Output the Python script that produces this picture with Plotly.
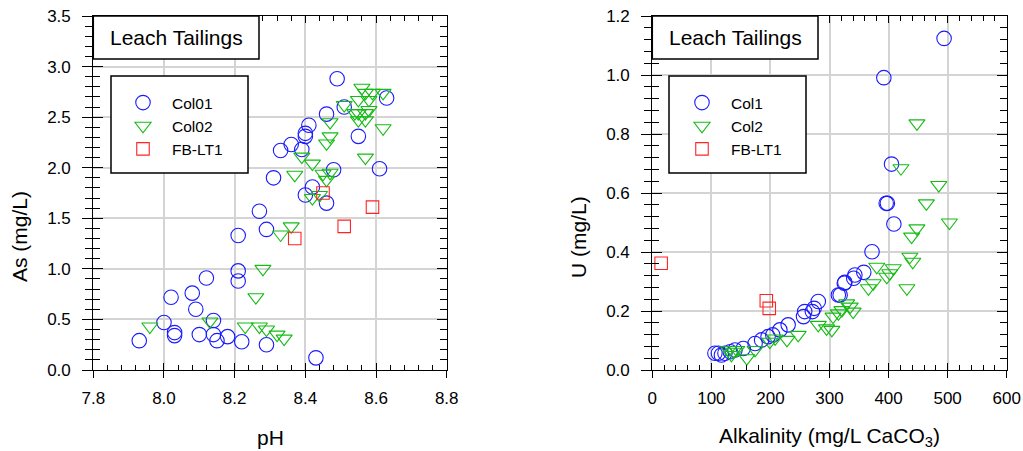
import plotly.graph_objects as go

# ---------------- data ----------------
# Left panel: As (mg/L) vs pH
ph_col01 = [7.93, 8.00, 8.02, 8.03, 8.03, 8.08, 8.09, 8.12, 8.10, 8.14, 8.14, 8.15,
            8.18, 8.22, 8.29, 8.21, 8.21, 8.21, 8.27, 8.29, 8.31, 8.40, 8.42, 8.46,
            8.43, 8.49, 8.63, 8.51, 8.46, 8.41, 8.40, 8.40, 8.36, 8.33, 8.39, 8.55,
            8.61, 8.48]
as_col01 = [0.29, 0.47, 0.72, 0.37, 0.34, 0.76, 0.60, 0.91, 0.35, 0.49, 0.35, 0.29,
            0.33, 0.28, 0.25, 1.33, 0.98, 0.88, 1.57, 1.39, 1.90, 1.73, 1.81, 1.65,
            0.12, 2.88, 2.69, 2.60, 2.53, 2.42, 2.34, 2.31, 2.23, 2.17, 2.18, 2.31,
            1.99, 1.98]

ph_col02 = [7.96, 8.13, 8.23, 8.27, 8.29, 8.32, 8.34, 8.28, 8.26, 8.33, 8.36, 8.42,
            8.44, 8.56, 8.57, 8.59, 8.62, 8.51, 8.55, 8.58, 8.54, 8.55, 8.57, 8.58,
            8.55, 8.57, 8.62, 8.57, 8.47, 8.47, 8.46, 8.39, 8.42, 8.37, 8.45, 8.47,
            8.46]
as_col02 = [0.43, 0.48, 0.43, 0.43, 0.40, 0.35, 0.31, 1.00, 0.72, 1.34, 1.42, 1.70,
            1.73, 2.79, 2.74, 2.74, 2.74, 2.62, 2.67, 2.67, 2.54, 2.54, 2.54, 2.57,
            2.47, 2.47, 2.39, 2.10, 2.45, 2.31, 2.24, 2.11, 2.04, 1.93, 1.94, 1.95,
            1.88]

ph_fb = [8.37, 8.45, 8.51, 8.59]
as_fb = [1.30, 1.75, 1.42, 1.61]

# Right panel: U (mg/L) vs alkalinity (mg/L CaCO3)
alk_col1 = [494, 392, 405, 396, 398, 409, 372, 358, 343, 326, 318, 106, 112, 117,
            123, 132, 140, 154, 174, 185, 196, 204, 216, 230, 256, 258, 271, 274,
            281, 315, 325, 341]
u_col1 = [1.124, 0.991, 0.698, 0.565, 0.565, 0.495, 0.401, 0.331, 0.322, 0.297,
          0.254, 0.057, 0.057, 0.051, 0.057, 0.062, 0.068, 0.073, 0.090, 0.102,
          0.113, 0.119, 0.136, 0.153, 0.181, 0.198, 0.198, 0.209, 0.232, 0.254,
          0.294, 0.311]

alk_col2 = [448, 421, 485, 464, 503, 448, 439, 436, 441, 380, 408, 402, 397, 431,
            374, 366, 329, 335, 340, 321, 129, 137, 134, 143, 160, 174, 199, 208,
            228, 247, 281, 295, 304, 306, 315]
u_col2 = [0.836, 0.684, 0.627, 0.565, 0.500, 0.480, 0.452, 0.384, 0.367, 0.350,
          0.345, 0.328, 0.316, 0.277, 0.294, 0.277, 0.226, 0.215, 0.198, 0.203,
          0.068, 0.062, 0.051, 0.068, 0.040, 0.068, 0.096, 0.107, 0.102, 0.119,
          0.153, 0.141, 0.136, 0.181, 0.192]

alk_fb = [15, 193, 198]
u_fb = [0.362, 0.235, 0.209]

# ---------------- styling ----------------
W, H = 1023, 451
FONT = "Liberation Sans, Arial, sans-serif"
BLUE, GREEN, RED = "#1a1aff", "#14bb14", "#ff2424"


def fx(p):
    return p / W


def fy(p):
    return 1 - p / H


LEFT_DOM = [fx(93.3), fx(446.7)]
RIGHT_DOM = [fx(652.3), fx(1006.7)]
Y_DOM = [fy(370), fy(16)]

fig = go.Figure()


def add_series(x, y, name, symbol, color, size, xa, ya, legend):
    fig.add_trace(go.Scatter(
        x=x, y=y, mode="markers", name=name,
        xaxis=xa, yaxis=ya, legend=legend,
        marker=dict(symbol=symbol, size=size, color=color,
                    line=dict(color=color, width=1.1)),
    ))


add_series(ph_col01, as_col01, "Col01", "circle-open", BLUE, 14.5, "x", "y", "legend")
add_series(ph_col02, as_col02, "Col02", "triangle-down-open", GREEN, 14, "x", "y", "legend")
add_series(ph_fb, as_fb, "FB-LT1", "square-open", RED, 12.5, "x", "y", "legend")

add_series(alk_col1, u_col1, "Col1", "circle-open", BLUE, 14.5, "x2", "y2", "legend2")
add_series(alk_col2, u_col2, "Col2", "triangle-down-open", GREEN, 14, "x2", "y2", "legend2")
add_series(alk_fb, u_fb, "FB-LT1", "square-open", RED, 12.5, "x2", "y2", "legend2")

# traces that carry the overlay axes used for the inward ticks
fig.add_trace(go.Scatter(x=[7.8], y=[0], xaxis="x3", yaxis="y3", mode="markers",
                         marker=dict(opacity=0), showlegend=False, hoverinfo="skip"))
fig.add_trace(go.Scatter(x=[0], y=[0], xaxis="x4", yaxis="y4", mode="markers",
                         marker=dict(opacity=0), showlegend=False, hoverinfo="skip"))

tickfont = dict(family=FONT, size=17, color="black")


def main_x(rng, dtick, dom, anchor):
    return dict(domain=dom, range=rng, anchor=anchor, dtick=dtick, tick0=rng[0],
                tickformat=".1f" if dtick < 1 else "d", automargin=False,
                showgrid=True, gridcolor="#d4d4d4", gridwidth=1.5, zeroline=False,
                showline=True, linecolor="black", linewidth=1.2, mirror=True,
                ticks="outside", ticklen=7, tickwidth=1.2, tickcolor="black",
                tickfont=tickfont, ticklabelstandoff=5)


def main_y(rng, dtick, minor_dtick, anchor):
    return dict(domain=Y_DOM, range=rng, anchor=anchor, dtick=dtick, tick0=0,
                tickformat=".1f", automargin=False,
                showgrid=True, gridcolor="#d4d4d4", gridwidth=1.5, zeroline=False,
                showline=True, linecolor="black", linewidth=1.2, mirror=True,
                ticks="outside", ticklen=10, tickwidth=1.2, tickcolor="black",
                minor=dict(dtick=minor_dtick, tick0=0, ticks="outside", ticklen=7,
                           tickwidth=1, tickcolor="black", showgrid=False),
                tickfont=tickfont, ticklabelstandoff=8)


def over_x(rng, dtick, minor_dtick, dom, over, anchor):
    return dict(domain=dom, range=rng, overlaying=over, anchor=anchor, side="bottom",
                dtick=dtick, tick0=rng[0], showticklabels=False, showgrid=False,
                automargin=False,
                zeroline=False, showline=True, linecolor="black", linewidth=1.2,
                mirror="ticks", ticks="inside", ticklen=7, tickwidth=1.2,
                tickcolor="black",
                minor=dict(dtick=minor_dtick, tick0=rng[0], ticks="inside", ticklen=5,
                           tickwidth=1, tickcolor="black", showgrid=False))


def over_y(rng, dtick, minor_dtick, over, anchor):
    return dict(domain=Y_DOM, range=rng, overlaying=over, anchor=anchor, side="left",
                dtick=dtick, tick0=0, showticklabels=False, showgrid=False,
                automargin=False,
                zeroline=False, showline=True, linecolor="black", linewidth=1.2,
                mirror="ticks", ticks="inside", ticklen=10, tickwidth=1.2,
                tickcolor="black",
                minor=dict(dtick=minor_dtick, tick0=0, ticks="inside", ticklen=7,
                           tickwidth=1, tickcolor="black", showgrid=False))


legend_font = dict(family=FONT, size=15.5, color="black")

fig.update_layout(
    width=W, height=H,
    margin=dict(l=0, r=0, t=0, b=0, pad=0, autoexpand=False),
    paper_bgcolor="white", plot_bgcolor="white",
    font=dict(family=FONT, color="black"),
    xaxis=main_x([7.8, 8.8], 0.2, LEFT_DOM, "y"),
    yaxis=main_y([0, 3.5], 0.5, 0.1, "x"),
    xaxis2=main_x([0, 600], 100, RIGHT_DOM, "y2"),
    yaxis2=main_y([0, 1.2], 0.2, 0.04, "x2"),
    xaxis3=over_x([7.8, 8.8], 0.2, 0.04, LEFT_DOM, "x", "y3"),
    yaxis3=over_y([0, 3.5], 0.5, 0.1, "y", "x3"),
    xaxis4=over_x([0, 600], 100, 20, RIGHT_DOM, "x2", "y4"),
    yaxis4=over_y([0, 1.2], 0.2, 0.04, "y2", "x4"),
    legend=dict(x=fx(114), y=fy(86), xanchor="left", yanchor="top",
                bgcolor="rgba(0,0,0,0)", borderwidth=0,
                font=legend_font, itemwidth=48),
    legend2=dict(x=fx(673), y=fy(86), xanchor="left", yanchor="top",
                 bgcolor="rgba(0,0,0,0)", borderwidth=0,
                 font=legend_font, itemwidth=48),
)

shapes = []
annotations = []

# "Leach Tailings" boxes and legend frames
for x0, x1, label in [(93.3, 259, "Leach Tailings"), (652.3, 818, "Leach Tailings")]:
    shapes.append(dict(type="rect", xref="paper", yref="paper",
                       x0=fx(x0), x1=fx(x1), y0=fy(59), y1=fy(16),
                       line=dict(color="black", width=1.5), fillcolor="white",
                       layer="above"))
    annotations.append(dict(xref="paper", yref="paper", x=fx((x0 + x1) / 2), y=fy(38),
                            text=label, showarrow=False, xanchor="center",
                            yanchor="middle",
                            font=dict(family=FONT, size=21, color="black")))

for x0, x1 in [(111, 248), (669, 806)]:
    shapes.append(dict(type="rect", xref="paper", yref="paper",
                       x0=fx(x0), x1=fx(x1), y0=fy(173), y1=fy(76),
                       line=dict(color="black", width=1.5), fillcolor="white",
                       layer="above"))

# axis titles
title_font = dict(family=FONT, size=21, color="black")
annotations += [
    dict(xref="paper", yref="paper", x=fx(270), y=fy(437), text="pH",
         showarrow=False, xanchor="center", yanchor="middle", font=title_font),
    dict(xref="paper", yref="paper", x=fx(829.5), y=fy(437),
         text="Alkalinity (mg/L CaCO<sub>3</sub>)",
         showarrow=False, xanchor="center", yanchor="middle", font=title_font),
    dict(xref="paper", yref="paper", x=fx(19), y=fy(237), text="As (mg/L)",
         showarrow=False, xanchor="center", yanchor="middle", textangle=-90,
         font=title_font),
    dict(xref="paper", yref="paper", x=fx(578), y=fy(237), text="U (mg/L)",
         showarrow=False, xanchor="center", yanchor="middle", textangle=-90,
         font=title_font),
]

fig.update_layout(shapes=shapes, annotations=annotations)

fig.write_html("out.html")
